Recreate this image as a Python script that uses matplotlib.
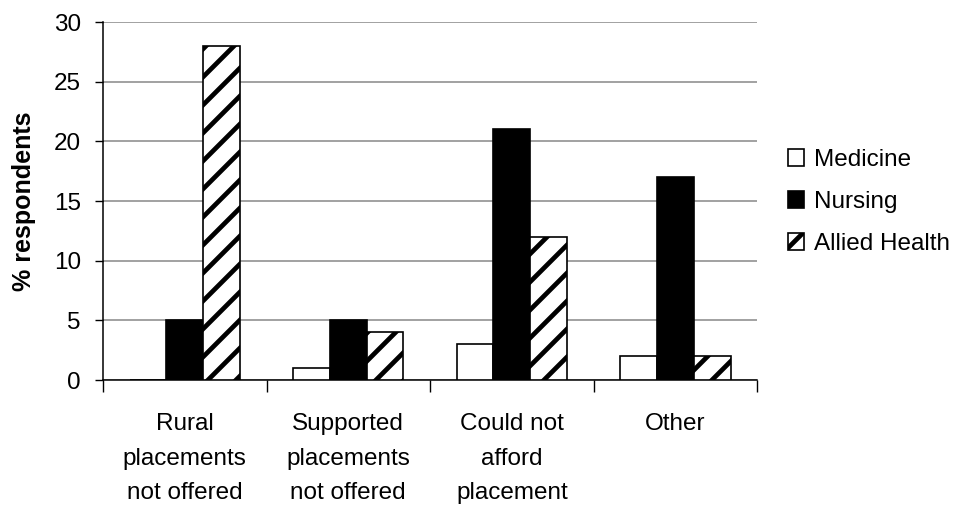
import matplotlib
matplotlib.use("Agg")
import matplotlib.pyplot as plt
import numpy as np

categories = ["Rural\nplacements\nnot offered", "Supported\nplacements\nnot offered",
              "Could not\nafford\nplacement", "Other"]
series_names = ["Medicine", "Nursing", "Allied Health"]
medicine = [0, 1, 3, 2]
nursing = [5, 5, 21, 17]
allied = [28, 4, 12, 2]
yticks = [0, 5, 10, 15, 20, 25, 30]

DPI = 84
k = 100.0 / DPI

plt.rcParams['font.family'] = ['Liberation Sans', 'DejaVu Sans']
plt.rcParams['hatch.linewidth'] = 3.4 * k

FS = 17.5 * k
fig = plt.figure(figsize=(967 / DPI, 506 / DPI), dpi=DPI)
ax = fig.add_axes([0.1065, 0.249, 0.6765, 0.7075])

x = np.arange(len(categories))
w = 0.225
lw = 1.2 * k
ax.bar(x - w, medicine, w, facecolor='white', edgecolor='black', linewidth=lw, label=series_names[0], zorder=3)
ax.bar(x, nursing, w, facecolor='black', edgecolor='black', linewidth=lw, label=series_names[1], zorder=3)
ax.bar(x + w, allied, w, facecolor='white', edgecolor='black', linewidth=lw, hatch='/', label=series_names[2], zorder=3)

ax.set_xlim(-0.5, len(categories) - 0.5)
ax.set_ylim(0, 30)
ax.set_yticks(yticks)
ax.tick_params(axis='y', labelsize=FS, length=6 * k, width=1 * k, direction='out', pad=10 * k)
ax.yaxis.grid(True, color='#888888', linewidth=1.1 * k, zorder=0)
ax.set_axisbelow(True)

ax.set_xticks(np.arange(len(categories) + 1) - 0.5)
ax.set_xticklabels([])
ax.tick_params(axis='x', length=9 * k, width=1 * k, direction='out')
for i, c in enumerate(categories):
    ax.text(i, -0.093, c, transform=ax.get_xaxis_transform(), ha='center', va='top',
            fontsize=FS, linespacing=1.72)

for s in ['top', 'right']:
    ax.spines[s].set_visible(False)
ax.spines['left'].set_linewidth(1.1 * k)
ax.spines['bottom'].set_linewidth(1.1 * k)

ax.set_ylabel("% respondents", fontsize=18 * k, fontweight='bold')
ax.yaxis.set_label_coords(-0.102, 0.5)

leg = ax.legend(loc='center left', bbox_to_anchor=(1.013, 0.497), frameon=False, fontsize=FS,
                handlelength=0.68, handleheight=0.68, handletextpad=0.42, labelspacing=0.83)

fig.savefig("out.png", dpi=DPI)
